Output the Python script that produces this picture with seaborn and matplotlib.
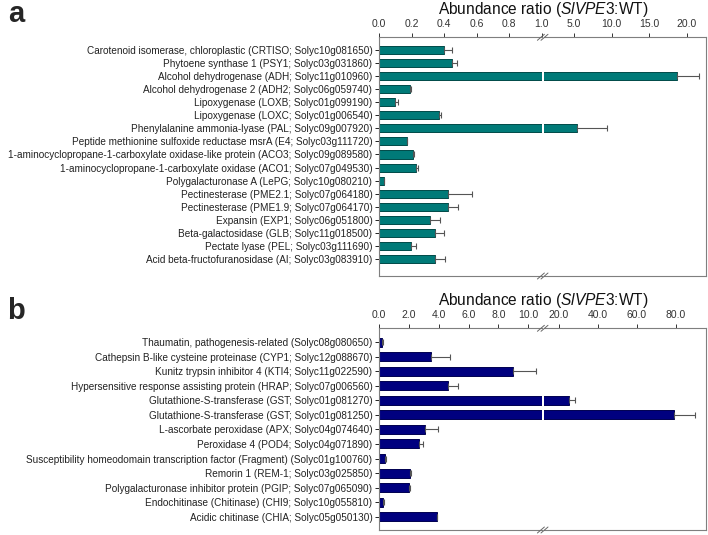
import matplotlib
matplotlib.use("Agg")
import matplotlib.pyplot as plt
from matplotlib.lines import Line2D
import seaborn as sns
import numpy as np

sns.set_theme(style="white")
plt.rcParams["font.family"] = ["Liberation Sans", "DejaVu Sans"]
plt.rcParams["mathtext.fontset"] = "custom"
plt.rcParams["mathtext.rm"] = "Liberation Sans"
plt.rcParams["mathtext.it"] = "Liberation Sans:italic"

# panel a
labels_a = [
    "Carotenoid isomerase, chloroplastic (CRTISO; Solyc10g081650)",
    "Phytoene synthase 1 (PSY1; Solyc03g031860)",
    "Alcohol dehydrogenase (ADH; Solyc11g010960)",
    "Alcohol dehydrogenase 2 (ADH2; Solyc06g059740)",
    "Lipoxygenase (LOXB; Solyc01g099190)",
    "Lipoxygenase (LOXC; Solyc01g006540)",
    "Phenylalanine ammonia-lyase (PAL; Solyc09g007920)",
    "Peptide methionine sulfoxide reductase msrA (E4; Solyc03g111720)",
    "1-aminocyclopropane-1-carboxylate oxidase-like protein (ACO3; Solyc09g089580)",
    "1-aminocyclopropane-1-carboxylate oxidase (ACO1; Solyc07g049530)",
    "Polygalacturonase A (LePG; Solyc10g080210)",
    "Pectinesterase (PME2.1; Solyc07g064180)",
    "Pectinesterase (PME1.9; Solyc07g064170)",
    "Expansin (EXP1; Solyc06g051800)",
    "Beta-galactosidase (GLB; Solyc11g018500)",
    "Pectate lyase (PEL; Solyc03g111690)",
    "Acid beta-fructofuranosidase (AI; Solyc03g083910)",
]
ratio_a = [0.40, 0.45, 18.7, 0.19, 0.096, 0.366, 5.4, 0.168, 0.209, 0.225,
           0.029, 0.426, 0.426, 0.315, 0.34, 0.194, 0.34]
err_a = [0.045, 0.03, 2.85, 0.005, 0.017, 0.014, 4.0, 0.004, 0.005, 0.014,
         0.002, 0.145, 0.061, 0.059, 0.057, 0.03, 0.067]

# panel b
labels_b = [
    "Thaumatin, pathogenesis-related (Solyc08g080650)",
    "Cathepsin B-like cysteine proteinase (CYP1; Solyc12g088670)",
    "Kunitz trypsin inhibitor 4 (KTI4; Solyc11g022590)",
    "Hypersensitive response assisting protein (HRAP; Solyc07g006560)",
    "Glutathione-S-transferase (GST; Solyc01g081270)",
    "Glutathione-S-transferase (GST; Solyc01g081250)",
    "L-ascorbate peroxidase (APX; Solyc04g074640)",
    "Peroxidase 4 (POD4; Solyc04g071890)",
    "Susceptibility homeodomain transcription factor (Fragment) (Solyc01g100760)",
    "Remorin 1 (REM-1; Solyc03g025850)",
    "Polygalacturonase inhibitor protein (PGIP; Solyc07g065090)",
    "Endochitinase (Chitinase) (CHI9; Solyc10g055810)",
    "Acidic chitinase (CHIA; Solyc05g050130)",
]
ratio_b = [0.18, 3.5, 9.0, 4.6, 25.0, 79.1, 3.04, 2.64, 0.4, 2.08, 2.0, 0.25, 3.87]
err_b = [0.05, 1.27, 1.5, 0.68, 3.4, 10.6, 0.9, 0.3, 0.05, 0.05, 0.06, 0.04, 0.0]

ticks_a_left = [0.0, 0.2, 0.4, 0.6, 0.8, 1.0]
ticks_a_right = [5.0, 10.0, 15.0, 20.0]
ticks_b_left = [0.0, 2.0, 4.0, 6.0, 8.0, 10.0]
ticks_b_right = [20.0, 40.0, 60.0, 80.0]

W, H = 708, 535
fig = plt.figure(figsize=(W / 100, H / 100), dpi=100)


def rect(x0, x1, y0, y1):
    return [x0 / W, 1 - y1 / H, (x1 - x0) / W, (y1 - y0) / H]


def slash(x, y):
    # little "//" break mark, in figure pixels
    for dx in (-1.8, 1.8):
        fig.add_artist(Line2D([(x + dx - 3.5) / W, (x + dx + 3.5) / W],
                              [1 - (y + 3) / H, 1 - (y - 3) / H],
                              color="#666666", lw=0.7, transform=fig.transFigure))


def panel(labels, vals, errs, color, edge, top, bottom, xl, xr, tl, tr, ylim, letter, ly):
    split = 541.7
    axl = fig.add_axes(rect(379.3, split, top, bottom))
    axr = fig.add_axes(rect(543.5, 706, top, bottom))
    n = len(labels)
    for ax in (axl, axr):
        sns.barplot(x=vals, y=labels, orient="h", color=color, ax=ax,
                    edgecolor=edge, linewidth=0.7, width=0.62, saturation=1)
        ax.errorbar(vals, np.arange(n), xerr=[np.zeros(n), errs], fmt="none",
                    ecolor="#555555", elinewidth=0.8, capsize=2.5, capthick=0.8)
        ax.set_ylim(*ylim)
        ax.xaxis.tick_top()
        ax.tick_params(axis="x", direction="out", length=3, width=0.7, pad=3,
                       labelsize=7.5, colors="#333333", top=True, bottom=False)
        ax.set_xlabel("")
        ax.set_ylabel("")
        for s in ax.spines.values():
            s.set_color("#7f7f7f")
            s.set_linewidth(0.8)
    axl.set_xlim(*xl)
    axl.set_xticks(tl)
    axl.set_xticklabels([f"{t:.1f}" for t in tl])
    axl.spines["right"].set_visible(False)
    axl.tick_params(axis="y", direction="out", length=3, width=0.7, pad=2,
                    labelsize=7.2, left=True, colors="#222222")
    axr.set_xlim(*xr)
    axr.set_xticks(tr)
    axr.set_xticklabels([f"{t:.1f}" for t in tr])
    axr.spines["left"].set_visible(False)
    axr.set_yticks([])
    slash(split + 1, top)
    slash(split + 1, bottom)
    fig.text(543 / W, 1 - (top - 28) / H, r"Abundance ratio ($\mathit{SlVPE3}$:WT)",
             ha="center", va="center", fontsize=11.2, color="#111111")
    fig.text(16 / W, 1 - ly / H, letter, ha="center", va="center",
             fontsize=21, fontweight="bold")


panel(labels_a, ratio_a, err_a, "#007a78", "#004a48", 37.3, 276,
      (0, 1.0), (0.95, 22.53), ticks_a_left, ticks_a_right, (17.3, -0.97), "a", 14)
panel(labels_b, ratio_b, err_b, "#00007f", "#000050", 328.3, 530,
      (0, 10.9), (12.05, 95.4), ticks_b_left, ticks_b_right, (12.92, -0.96), "b", 311)

fig.savefig("out.png", dpi=100, facecolor="white")
